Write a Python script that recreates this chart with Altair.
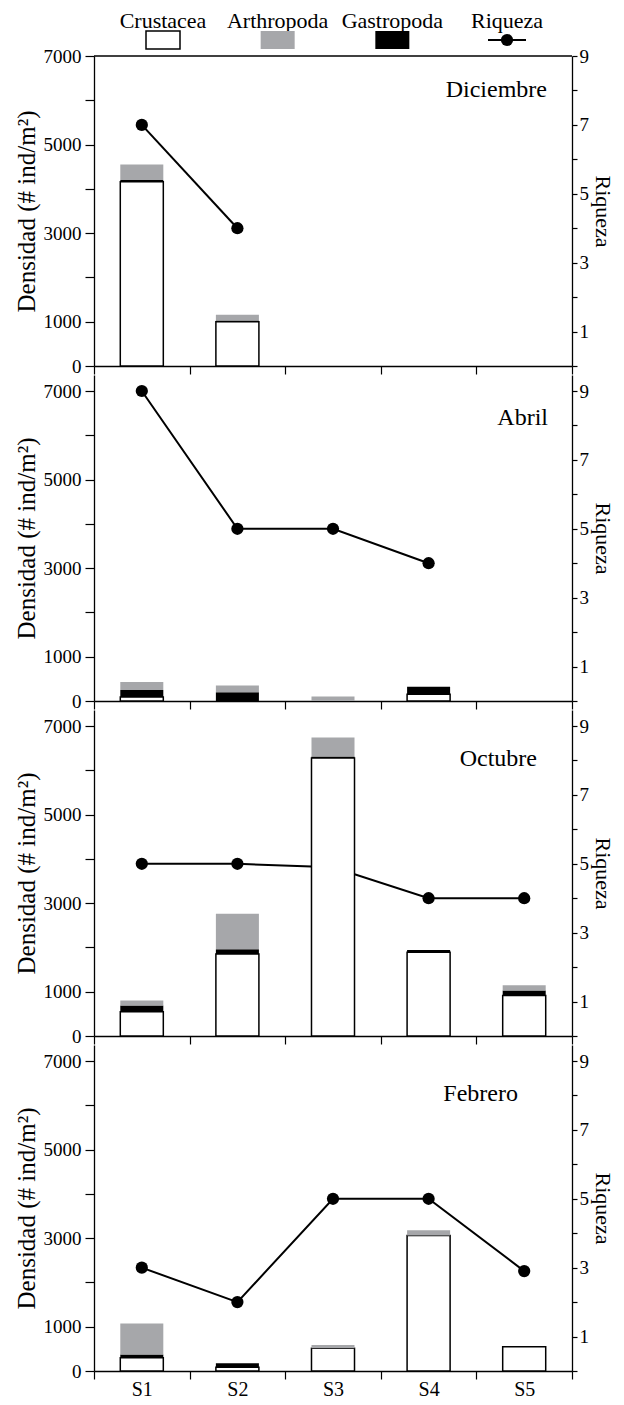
import altair as alt
import pandas as pd

estaciones = ["S1", "S2", "S3", "S4", "S5"]
meses = ["Diciembre", "Abril", "Octubre", "Febrero"]
grupos = ["Crustacea", "Gastropoda", "Arthropoda"]

crustacea = {
    "Diciembre": [4160, 1000, 0, 0, 0],
    "Abril": [90, 0, 0, 150, 0],
    "Octubre": [550, 1850, 6280, 1890, 915],
    "Febrero": [300, 85, 515, 3060, 545],
}
gastropoda = {
    "Diciembre": [40, 30, 0, 0, 0],
    "Abril": [160, 200, 0, 170, 0],
    "Octubre": [140, 110, 30, 50, 110],
    "Febrero": [75, 90, 0, 0, 0],
}
arthropoda = {
    "Diciembre": [350, 130, 0, 0, 0],
    "Abril": [180, 150, 100, 0, 0],
    "Octubre": [110, 800, 430, 0, 120],
    "Febrero": [700, 0, 70, 120, 0],
}
riqueza = {
    "Diciembre": [7, 4, None, None, None],
    "Abril": [9, 5, 5, 4, None],
    "Octubre": [5, 5, 4.9, 4, 4],
    "Febrero": [3, 2, 5, 5, 2.9],
}

leg_names = ["Crustacea", "Arthropoda", "Gastropoda", "Riqueza"]

FONT = "Liberation Serif"
GRAY = "#a6a7aa"
W = 478
H1 = 310
H = 326
YMAX1 = 7000
YMAX = 7000 * H / H1
RMAX1 = 9
RMAX = 9 * H / H1

# month label placement (pixels inside panel)
lab_pos = {
    "Diciembre": (453, 41),
    "Abril": (454, 50),
    "Octubre": (443, 56),
    "Febrero": (424, 56),
}


def panel(mes, first, last):
    rows = []
    for i, e in enumerate(estaciones):
        for k, (g, src) in enumerate(zip(grupos, [crustacea, gastropoda, arthropoda])):
            v = src[mes][i]
            if v > 0:
                rows.append({"estacion": e, "grupo": g, "valor": v, "orden": k})
    bars_df = pd.DataFrame(rows)
    rq_df = pd.DataFrame(
        [{"estacion": e, "riqueza": r} for e, r in zip(estaciones, riqueza[mes]) if r is not None]
    )
    ymax = YMAX1 if first else YMAX
    rmax = RMAX1 if first else RMAX
    h = H1 if first else H

    xaxis = alt.Axis(
        title=None, tickBand="extent", labels=last, labelFont=FONT, labelFontSize=20,
        labelColor="black", tickSize=8, tickColor="black", tickWidth=1.2,
        domainColor="black", domainWidth=1.3, labelAngle=0, labelPadding=0, grid=False,
    )
    xenc = alt.X("estacion:N", scale=alt.Scale(domain=estaciones, paddingInner=0, paddingOuter=0), axis=xaxis)

    line = alt.Chart(rq_df).mark_line(
        color="black", strokeWidth=2,
        point=alt.OverlayMarkDef(filled=True, color="black", size=150, opacity=1),
    ).encode(
        x=xenc,
        y=alt.Y(
            "riqueza:Q",
            scale=alt.Scale(domain=[0, rmax], nice=False, zero=True),
            axis=alt.Axis(
                orient="right", values=list(range(10)),
                labelExpr="datum.value % 2 == 1 ? datum.label : ''",
                title="Riqueza", titleFont=FONT, titleFontSize=22, titleFontWeight="normal",
                titleColor="black", titlePadding=2, labelFont=FONT, labelFontSize=19,
                labelColor="black", tickSize=5, tickColor="black", tickWidth=1.2,
                domainColor="black", domainWidth=1.3, labelPadding=2, grid=False,
            ),
        ),
    )

    bars = alt.Chart(bars_df).mark_bar(width=alt.RelativeBandSize(0.45)).encode(
        x=xenc,
        y=alt.Y(
            "valor:Q", stack="zero",
            scale=alt.Scale(domain=[0, ymax], nice=False),
            axis=alt.Axis(
                orient="left", values=list(range(0, 7001, 1000)), format="d",
                labelExpr="datum.value == 0 || datum.value % 2000 == 1000 ? datum.label : ''",
                title="Densidad (# ind/m²)", titleFont=FONT, titleFontSize=25,
                titleFontWeight="normal", titleColor="black", titlePadding=4,
                labelFont=FONT, labelFontSize=19, labelColor="black", tickSize=9,
                tickColor="black", tickWidth=1.2, domainColor="black", domainWidth=1.3,
                labelPadding=4, grid=False,
            ),
        ),
        fill=alt.Fill("grupo:N", scale=alt.Scale(domain=grupos, range=["white", "black", GRAY]), legend=None),
        stroke=alt.condition(alt.datum.grupo == "Crustacea", alt.value("black"), alt.value("transparent")),
        strokeWidth=alt.condition(alt.datum.grupo == "Crustacea", alt.value(1.5), alt.value(0)),
        order=alt.Order("orden:Q"),
    )

    lx, ly = lab_pos[mes]
    label = alt.Chart(pd.DataFrame({"mes": [mes]})).mark_text(
        font=FONT, fontSize=24, align="right", baseline="alphabetic", color="black"
    ).encode(text="mes:N", x=alt.value(lx), y=alt.value(ly))

    inner_layers = [bars]
    if first:
        inner_layers.append(
            alt.Chart(pd.DataFrame({"v": [0]})).mark_rule(color="black", strokeWidth=1.3).encode(y=alt.datum(7000))
        )
    inner_layers.append(label)
    inner = alt.layer(*inner_layers)

    return alt.layer(line, inner).resolve_scale(y="independent").properties(width=W, height=h)


# custom legend
leg_df = pd.DataFrame({"name": leg_names})
lxenc = alt.X("name:N", scale=alt.Scale(type="point", domain=leg_names, range=[69, 413], padding=0), axis=None)
leg_text = alt.Chart(leg_df).mark_text(font=FONT, fontSize=22, baseline="alphabetic", color="black").encode(
    x=lxenc, y=alt.value(12), text="name:N"
)
leg_box = alt.Chart(leg_df).transform_filter("datum.name != 'Riqueza'").mark_bar(width=34).encode(
    x=lxenc, y=alt.value(15), y2=alt.value(33),
    fill=alt.Fill("name:N", scale=alt.Scale(domain=leg_names, range=["white", GRAY, "black", "black"]), legend=None),
    stroke=alt.condition(alt.datum.name == "Crustacea", alt.value("black"), alt.value("transparent")),
    strokeWidth=alt.condition(alt.datum.name == "Crustacea", alt.value(1.5), alt.value(0)),
)
leg_line = alt.Chart(leg_df).transform_filter("datum.name == 'Riqueza'").mark_rule(
    color="black", strokeWidth=2, xOffset=-19, x2Offset=19
).encode(x=lxenc, x2=alt.X2("name:N"), y=alt.value(24))
leg_pt = alt.Chart(leg_df).transform_filter("datum.name == 'Riqueza'").mark_point(
    filled=True, size=150, color="black", opacity=1
).encode(x=lxenc, y=alt.value(24))
legend = alt.layer(leg_text, leg_box, leg_line, leg_pt).properties(width=W, height=31)

panels = [panel(m, i == 0, i == len(meses) - 1) for i, m in enumerate(meses)]

chart = alt.vconcat(legend, *panels, spacing=9, bounds="flush").properties(
    padding={"left": 6, "top": 2, "right": 2, "bottom": 0}
).configure_view(stroke=None).configure_axis(
    labelFont=FONT, titleFont=FONT
).configure_text(font=FONT)

chart.save("out.html", embed_options={"renderer": "svg", "actions": False})
